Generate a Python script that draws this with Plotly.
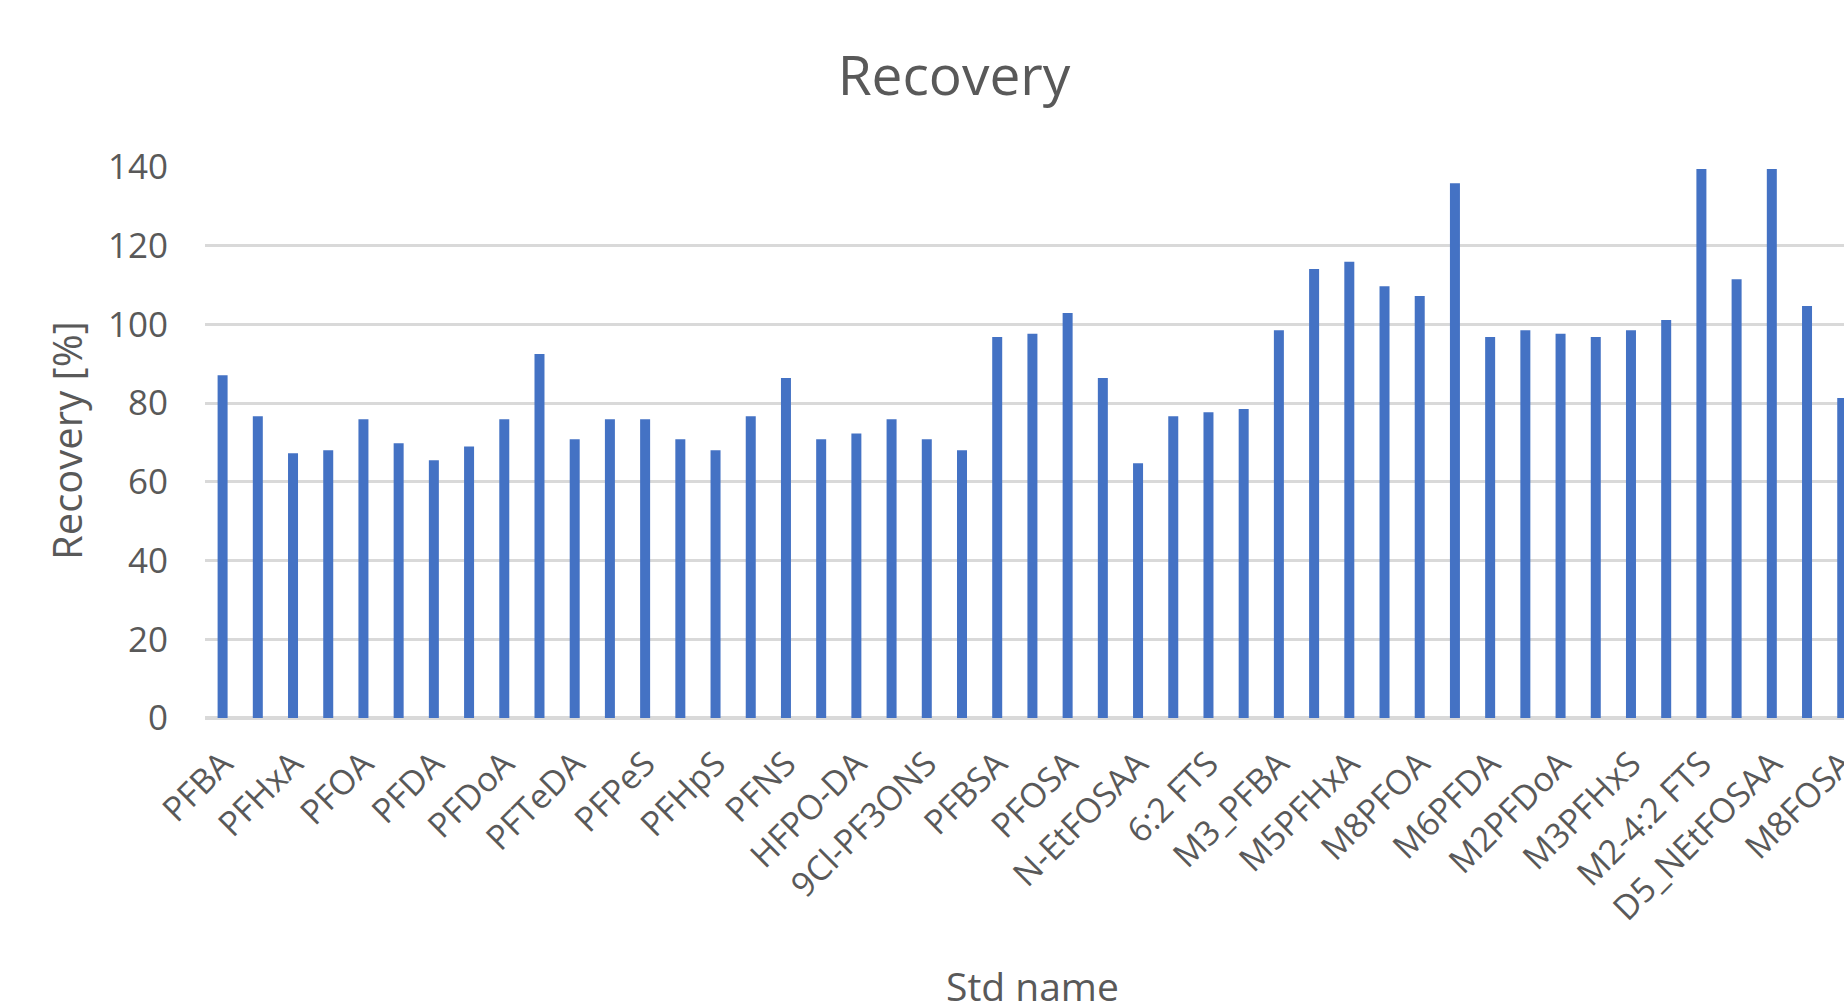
import plotly.graph_objects as go

# Recovery per standard (internal standards prefixed with M / D)
std_names = [
    "PFBA", "PFPeA", "PFHxA", "PFHpA", "PFOA", "PFNA", "PFDA", "PFUnDA",
    "PFDoA", "PFTrDA", "PFTeDA", "PFBS", "PFPeS", "PFHxS", "PFHpS", "PFOS",
    "PFNS", "PFDS", "HFPO-DA", "ADONA", "9Cl-PF3ONS", "11Cl-PF3OUdS",
    "PFBSA", "PFHxSA", "PFOSA", "N-MeFOSAA", "N-EtFOSAA", "4:2 FTS",
    "6:2 FTS", "8:2 FTS", "M3_PFBA", "M5PFPeA", "M5PFHxA", "M4PFHpA",
    "M8PFOA", "M9PFNA", "M6PFDA", "M7PFUnDA", "M2PFDoA", "M2PFTeDA",
    "M3PFHxS", "M8PFOS", "M2-4:2 FTS", "M2-6:2 FTS", "D5_NEtFOSAA",
    "M2-8:2 FTS", "M8FOSA",
]
recovery = [
    87.1, 76.7, 67.3, 68.0, 75.9, 69.8, 65.5, 69.0,
    75.9, 92.5, 70.8, 75.9, 75.9, 70.8, 68.0, 76.7,
    86.4, 70.8, 72.3, 75.9, 70.8, 68.0,
    96.8, 97.6, 102.9, 86.4, 64.7, 76.7,
    77.7, 78.5, 98.5, 114.1, 115.9, 109.7,
    107.2, 135.9, 96.8, 98.5, 97.6, 96.8,
    98.5, 101.1, 139.5, 111.5, 139.5,
    104.7, 81.3,
]
# only every other category name fits under the axis
shown_labels = std_names[::2]
y_ticks = [0, 20, 40, 60, 80, 100, 120, 140]

W, H = 1844, 1007
M_L, M_R, M_T, M_B = 205, 0, 167, 289
GREY = "#595959"
FONT = "Open Sans"

fig = go.Figure(
    go.Bar(
        x=std_names,
        y=recovery,
        marker=dict(color="#4472c4", line=dict(width=0)),
    )
)

fig.update_layout(
    width=W,
    height=H,
    autosize=False,
    paper_bgcolor="white",
    plot_bgcolor="white",
    bargap=0.716,
    showlegend=False,
    margin=dict(l=M_L, r=M_R, t=M_T, b=M_B, pad=0, autoexpand=False),
    font=dict(family=FONT, color=GREY),
    title=dict(
        text="Recovery",
        font=dict(family=FONT, size=55, color=GREY),
        x=954 / W,
        xref="container",
        xanchor="center",
        y=1 - 76 / H,
        yref="container",
        yanchor="middle",
    ),
)

fig.update_xaxes(
    type="category",
    range=[-0.5, 46.05],
    tickvals=shown_labels,
    ticktext=shown_labels,
    tickangle=-45,
    tickfont=dict(family=FONT, size=34, color=GREY),
    showgrid=False,
    ticks="",
    showline=False,
    zeroline=False,
    automargin=False,
    ticklabelstandoff=18,
)

fig.update_yaxes(
    range=[0, 140],
    tickvals=y_ticks,
    tickfont=dict(family=FONT, size=35, color=GREY),
    showgrid=True,
    gridcolor="#d9d9d9",
    gridwidth=3,
    zeroline=True,
    zerolinecolor="#d9d9d9",
    zerolinewidth=4,
    showline=False,
    ticks="",
    automargin=False,
    ticklabelstandoff=36,
)


def to_paper(px, py):
    """Pixel position on the page -> paper coordinates of the plot area."""
    plot_w = W - M_L - M_R
    plot_h = H - M_T - M_B
    return (px - M_L) / plot_w, (H - M_B - py) / plot_h


ax, ay = to_paper(66, 441)
fig.add_annotation(
    text="Recovery [%]",
    x=ax, y=ay,
    xref="paper", yref="paper",
    showarrow=False,
    textangle=-90,
    font=dict(family=FONT, size=40, color=GREY),
    xanchor="center", yanchor="middle",
)
bx, by = to_paper(1032, 986)
fig.add_annotation(
    text="Std name",
    x=bx, y=by,
    xref="paper", yref="paper",
    showarrow=False,
    font=dict(family=FONT, size=39, color=GREY),
    xanchor="center", yanchor="middle",
)

fig.write_html("out.html")
